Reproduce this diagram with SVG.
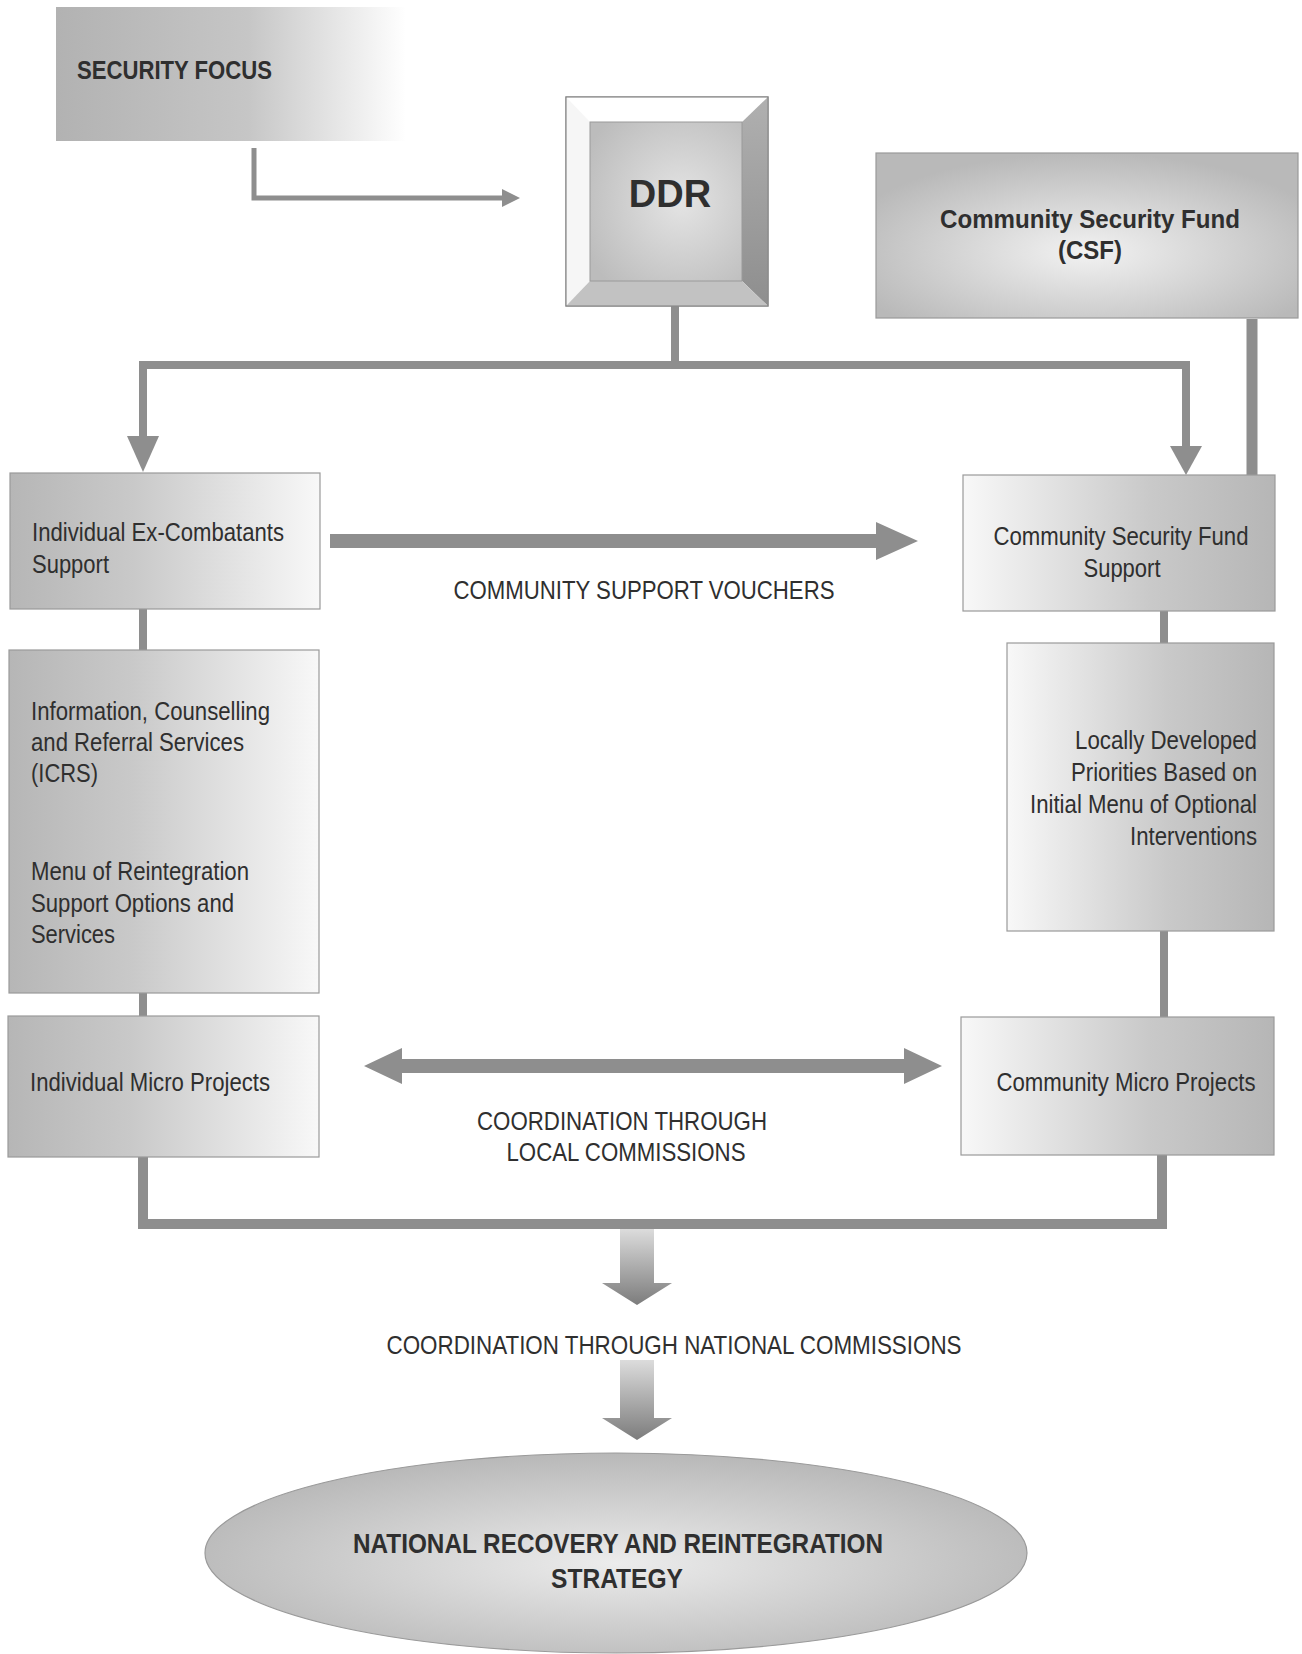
<svg xmlns="http://www.w3.org/2000/svg" width="1302" height="1654" viewBox="0 0 1302 1654">
<defs>
<linearGradient id="gL" x1="0" y1="0" x2="1" y2="0"><stop offset="0" stop-color="#b6b6b6"/><stop offset="0.4" stop-color="#c9c9c9"/><stop offset="1" stop-color="#f8f8f8"/></linearGradient>
<linearGradient id="gR" x1="0" y1="0" x2="1" y2="0"><stop offset="0" stop-color="#f8f8f8"/><stop offset="0.6" stop-color="#c9c9c9"/><stop offset="1" stop-color="#b6b6b6"/></linearGradient>
<linearGradient id="gSec" x1="0" y1="0" x2="1" y2="0"><stop offset="0" stop-color="#b2b2b2"/><stop offset="0.55" stop-color="#c6c6c6"/><stop offset="1" stop-color="#ffffff"/></linearGradient>
<radialGradient id="gCSF" cx="0.5" cy="0.6" r="0.6"><stop offset="0" stop-color="#f2f2f2"/><stop offset="1" stop-color="#b9b9b9"/></radialGradient>
<radialGradient id="gFace" cx="0.6" cy="0.5" r="0.7"><stop offset="0" stop-color="#e4e4e4"/><stop offset="1" stop-color="#bcbcbc"/></radialGradient>
<linearGradient id="gRight" x1="0" y1="0" x2="0" y2="1"><stop offset="0" stop-color="#b0b0b0"/><stop offset="1" stop-color="#8e8e8e"/></linearGradient>
<linearGradient id="gArr" x1="0" y1="0" x2="0" y2="1"><stop offset="0" stop-color="#dcdcdc"/><stop offset="1" stop-color="#7c7c7c"/></linearGradient>
<radialGradient id="gEll" cx="0.5" cy="0.55" r="0.55"><stop offset="0" stop-color="#ececec"/><stop offset="1" stop-color="#b8b8b8"/></radialGradient>
<style>
.box{stroke:#9a9a9a;stroke-width:1.2}
.t{font-family:"Liberation Sans Narrow","Liberation Sans",Arial,sans-serif;font-size:26px;fill:#2f2f2f}
.b{font-family:"Liberation Sans Narrow","Liberation Sans",Arial,sans-serif;font-size:25px;font-weight:bold;fill:#2f2f2f}
.line{fill:none;stroke:#8e8e8e;stroke-width:8}
.head{fill:#8e8e8e}
</style>
</defs>
<rect width="1302" height="1654" fill="#ffffff"/>

<g id="connectors">
<path class="line" d="M254,148 V198 H505" style="stroke-width:5"/>
<polygon class="head" points="502,189 520,198 502,207"/>
<path class="line" d="M675,306 V365"/>
<path class="line" d="M143,440 V365 H1186 V448"/>
<polygon class="head" points="127,436 159,436 143,472"/>
<polygon class="head" points="1170,446 1202,446 1186,475"/>
<path class="line" d="M1252,319 V476" style="stroke-width:11"/>
<path class="line" d="M143,609 V650 M143,993 V1016 M1164,611 V643 M1164,931 V1017"/>
<path class="line" d="M143,1157 V1224 H1162 V1155" style="stroke-width:10"/>
<polygon class="head" points="330,534 876,534 876,522 918,541 876,560 876,548 330,548"/>
<polygon class="head" points="364,1066 402,1048 402,1059 904,1059 904,1048 942,1066 904,1084 904,1073 402,1073 402,1084"/>
<polygon fill="url(#gArr)" points="620,1229 654,1229 654,1283 672,1283 637,1305 602,1283 620,1283"/>
<polygon fill="url(#gArr)" points="620,1360 654,1360 654,1418 672,1418 637,1440 602,1418 620,1418"/>
</g>

<g id="security-focus">
<rect x="56" y="7" width="350" height="134" fill="url(#gSec)"/>
<text class="b" x="77" y="79" textLength="195" lengthAdjust="spacingAndGlyphs">SECURITY FOCUS</text>
</g>

<g id="ddr">
<rect x="566" y="97" width="202" height="209" fill="#ffffff" stroke="#8a8a8a" stroke-width="1.2"/>
<polygon points="566,97 768,97 742,122 590,122" fill="#ffffff"/>
<polygon points="566,97 590,122 590,281 566,306" fill="#f6f6f6"/>
<polygon points="768,97 768,306 742,281 742,122" fill="url(#gRight)"/>
<polygon points="566,306 768,306 742,281 590,281" fill="#c2c2c2"/>
<rect x="590" y="122" width="152" height="159" fill="url(#gFace)" stroke="#9a9a9a" stroke-width="1"/>
<rect x="566" y="97" width="202" height="209" fill="none" stroke="#8a8a8a" stroke-width="1.2"/>
<text x="670" y="207" text-anchor="middle" style="font-family:'Liberation Sans',Arial,sans-serif;font-size:38px;font-weight:bold;fill:#2f2f2f">DDR</text>
</g>

<g id="csf">
<rect class="box" x="876" y="153" width="422" height="165" fill="url(#gCSF)"/>
<text class="b" x="1090" y="228" text-anchor="middle" textLength="300" lengthAdjust="spacingAndGlyphs">Community Security Fund</text>
<text class="b" x="1090" y="259" text-anchor="middle" textLength="64" lengthAdjust="spacingAndGlyphs">(CSF)</text>
</g>

<g id="ex-combatants">
<rect class="box" x="10" y="473" width="310" height="136" fill="url(#gL)"/>
<text class="t" x="32" y="541" textLength="252" lengthAdjust="spacingAndGlyphs">Individual Ex-Combatants</text>
<text class="t" x="32" y="573" textLength="77" lengthAdjust="spacingAndGlyphs">Support</text>
</g>

<g id="vouchers-label">
<text class="t" x="644" y="599" text-anchor="middle" textLength="381" lengthAdjust="spacingAndGlyphs">COMMUNITY SUPPORT VOUCHERS</text>
</g>

<g id="csf-support">
<rect class="box" x="963" y="475" width="312" height="136" fill="url(#gR)"/>
<text class="t" x="1121" y="545" text-anchor="middle" textLength="255" lengthAdjust="spacingAndGlyphs">Community Security Fund</text>
<text class="t" x="1122" y="577" text-anchor="middle" textLength="77" lengthAdjust="spacingAndGlyphs">Support</text>
</g>

<g id="icrs">
<rect class="box" x="9" y="650" width="310" height="343" fill="url(#gL)"/>
<text class="t" x="31" y="720" textLength="239" lengthAdjust="spacingAndGlyphs">Information, Counselling</text>
<text class="t" x="31" y="751" textLength="213" lengthAdjust="spacingAndGlyphs">and Referral Services</text>
<text class="t" x="31" y="782" textLength="67" lengthAdjust="spacingAndGlyphs">(ICRS)</text>
<text class="t" x="31" y="880" textLength="218" lengthAdjust="spacingAndGlyphs">Menu of Reintegration</text>
<text class="t" x="31" y="912" textLength="203" lengthAdjust="spacingAndGlyphs">Support Options and</text>
<text class="t" x="31" y="943" textLength="84" lengthAdjust="spacingAndGlyphs">Services</text>
</g>

<g id="locally-developed">
<rect class="box" x="1007" y="643" width="267" height="288" fill="url(#gR)"/>
<text class="t" x="1257" y="749" text-anchor="end" textLength="182" lengthAdjust="spacingAndGlyphs">Locally Developed</text>
<text class="t" x="1257" y="781" text-anchor="end" textLength="186" lengthAdjust="spacingAndGlyphs">Priorities Based on</text>
<text class="t" x="1257" y="813" text-anchor="end" textLength="227" lengthAdjust="spacingAndGlyphs">Initial Menu of Optional</text>
<text class="t" x="1257" y="845" text-anchor="end" textLength="127" lengthAdjust="spacingAndGlyphs">Interventions</text>
</g>

<g id="individual-micro">
<rect class="box" x="8" y="1016" width="311" height="141" fill="url(#gL)"/>
<text class="t" x="30" y="1091" textLength="240" lengthAdjust="spacingAndGlyphs">Individual Micro Projects</text>
</g>

<g id="community-micro">
<rect class="box" x="961" y="1017" width="313" height="138" fill="url(#gR)"/>
<text class="t" x="1126" y="1091" text-anchor="middle" textLength="259" lengthAdjust="spacingAndGlyphs">Community Micro Projects</text>
</g>

<g id="local-label">
<text class="t" x="622" y="1130" text-anchor="middle" textLength="290" lengthAdjust="spacingAndGlyphs">COORDINATION THROUGH</text>
<text class="t" x="626" y="1161" text-anchor="middle" textLength="239" lengthAdjust="spacingAndGlyphs">LOCAL COMMISSIONS</text>
</g>

<g id="national-label">
<text class="t" x="674" y="1354" text-anchor="middle" textLength="575" lengthAdjust="spacingAndGlyphs">COORDINATION THROUGH NATIONAL COMMISSIONS</text>
</g>

<g id="strategy">
<ellipse cx="616" cy="1553" rx="411" ry="100" fill="url(#gEll)" stroke="#9a9a9a" stroke-width="1.2"/>
<text class="b" x="618" y="1553" text-anchor="middle" textLength="530" lengthAdjust="spacingAndGlyphs" style="font-size:28px">NATIONAL RECOVERY AND REINTEGRATION</text>
<text class="b" x="617" y="1588" text-anchor="middle" textLength="132" lengthAdjust="spacingAndGlyphs" style="font-size:28px">STRATEGY</text>
</g>
</svg>
